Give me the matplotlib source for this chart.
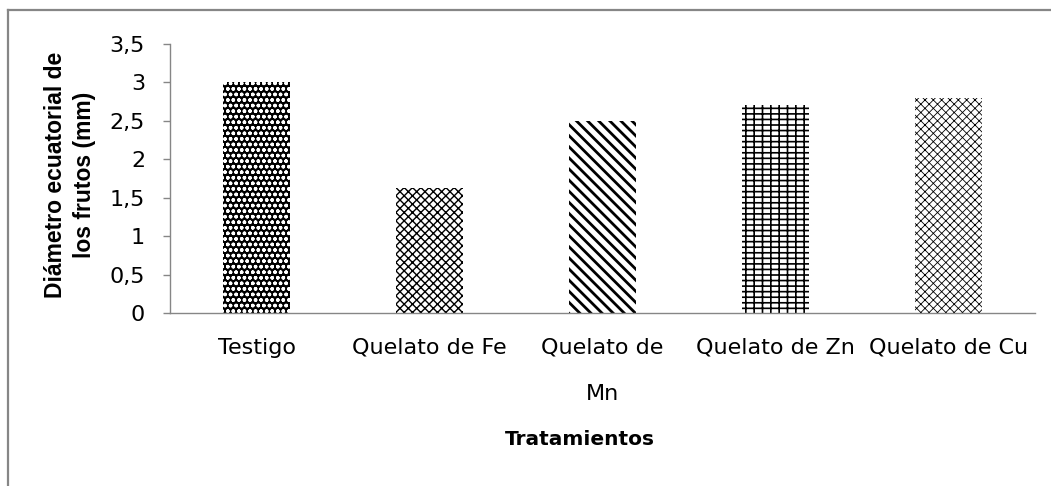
import matplotlib
matplotlib.use("Agg")
import matplotlib.pyplot as plt
from matplotlib.lines import Line2D

# --- Data ---
tratamientos = ["Testigo", "Quelato de Fe", "Quelato de\nMn", "Quelato de Zn", "Quelato de Cu"]
diametro = [3.0, 1.63, 2.5, 2.7, 2.8]
yticks = [0, 0.5, 1, 1.5, 2, 2.5, 3, 3.5]

# fill pattern per bar: (face, hatch colour, hatch, hatch linewidth)
patrones = [
    ("black", "white", "ooo", 1.0),
    ("white", "black", "xxxx", 1.0),
    ("white", "black", "\\\\\\", 2.0),
    ("white", "black", "-++", 1.2),
    ("white", "black", "xxxx", 0.6),
]

gris = "#868686"

fig = plt.figure(figsize=(10.51, 4.86), dpi=100)
ax = fig.add_axes([0.1618, 0.356, 0.823, 0.5535])

x = list(range(len(tratamientos)))
for i, (val, (fc, hc, h, hlw)) in enumerate(zip(diametro, patrones)):
    with plt.rc_context({"hatch.linewidth": hlw}):
        b = ax.bar(x[i], val, width=0.39, facecolor=fc, edgecolor=hc,
                   hatch=h, linewidth=0)
    for p in b.patches:
        if hasattr(p, "set_hatch_linewidth"):
            p.set_hatch_linewidth(hlw)

ax.set_xlim(-0.5, len(tratamientos) - 0.5)
ax.set_ylim(0, 3.5)
ax.set_yticks(yticks)
ax.set_yticklabels([f"{v:g}".replace(".", ",") for v in yticks])
ax.set_xticks(x)
ax.set_xticklabels(tratamientos)
for lbl in ax.get_xticklabels():
    lbl.set_linespacing(2.6)

for s in ["top", "right"]:
    ax.spines[s].set_visible(False)
for s in ["left", "bottom"]:
    ax.spines[s].set_color(gris)
    ax.spines[s].set_linewidth(1.0)

ax.tick_params(axis="y", length=5, color=gris, width=1.0, pad=13,
               labelsize=16)
ax.tick_params(axis="x", length=0, pad=18, labelsize=16)

fig.text(70 / 1051, 1 - 175 / 486, "Diámetro ecuatorial de\nlos frutos (mm)",
         rotation=90, ha="center", va="center", fontsize=16.5,
         family="Liberation Sans", fontweight="bold", linespacing=1.35)
fig.text(580 / 1051, 1 - 445 / 486, "Tratamientos", ha="center",
         va="baseline", fontsize=14.5, fontweight="bold")

# outer frame (top and left edges only show)
fig.add_artist(Line2D([8 / 1051, 1.0], [1 - 10.5 / 486] * 2, color=gris,
                      linewidth=1.6, transform=fig.transFigure))
fig.add_artist(Line2D([8 / 1051] * 2, [0.0, 1 - 10.5 / 486], color=gris,
                      linewidth=1.6, transform=fig.transFigure))

fig.savefig("out.png", dpi=100)
